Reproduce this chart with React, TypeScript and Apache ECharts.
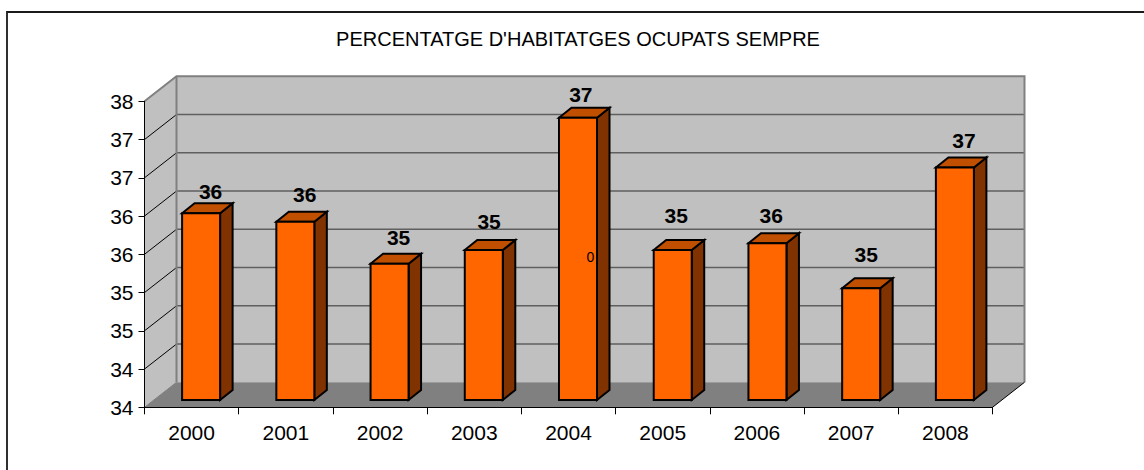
import React, { useEffect, useRef } from "react";
import * as echarts from "echarts";

const chartTitle = "PERCENTATGE D'HABITATGES OCUPATS SEMPRE";
const categories = ["2000", "2001", "2002", "2003", "2004", "2005", "2006", "2007", "2008"];
const seriesValues = [36.44, 36.33, 35.78, 35.96, 37.69, 35.96, 36.05, 35.46, 37.04];
const dataLabels = ["36", "36", "35", "35", "37", "35", "36", "35", "37"];
const yTickLabels = ["34", "34", "35", "35", "36", "36", "37", "37", "38"];
const yTickValues = [34, 34.5, 35, 35.5, 36, 36.5, 37, 37.5, 38];

// layout of the pseudo 3D scene
const FONT = '"Liberation Sans", Arial, sans-serif';
const WALL_DX = 32;
const WALL_DY = -25;
const BAR_SHIFT_X = 9.5;
const BAR_SHIFT_Y = -7.3;
const BAR_W = 38;
const SIDE_DX = 12.5;
const SIDE_DY = -10;
const labelNudgeX = [9.5, 9.4, 9, 5.3, 2.8, 4, 4.8, 5.5, 9];
const labelNudgeY = [-21.8, -26.7, -25.7, -28.3, -22.7, -34, -27.3, -33, -26];
const barNudgeX = [0, 0, 0, 0, 0, 0.5, 1, 0.5, 0];

function renderWalls(params: any, api: any) {
  const cs = params.coordSys;
  const L = cs.x;
  const R = cs.x + cs.width;
  const T = cs.y;
  const B = cs.y + cs.height;
  const bL = L + WALL_DX;
  const bR = R + WALL_DX;
  const bT = T + WALL_DY;
  const bB = B + WALL_DY;
  const children: any[] = [
    { type: "polygon", shape: { points: [[bL, bT], [bR, bT], [bR, bB], [bL, bB]] }, style: { fill: "#C0C0C0" } },
    { type: "polygon", shape: { points: [[L, T], [bL, bT], [bL, bB], [L, B]] }, style: { fill: "#C0C0C0" } },
    { type: "polygon", shape: { points: [[L, B], [bL, bB], [bR, bB], [R, B]] }, style: { fill: "#808080" } },
  ];
  yTickValues.slice(1, -1).forEach((t) => {
    const y = api.coord([0, t])[1];
    children.push({ type: "line", shape: { x1: bL, y1: y + WALL_DY, x2: bR, y2: y + WALL_DY }, style: { stroke: "#5F5F5F", lineWidth: 1.5 } });
    children.push({ type: "line", shape: { x1: L, y1: y, x2: bL, y2: y + WALL_DY }, style: { stroke: "#000", lineWidth: 1 } });
  });
  const edge = { stroke: "#808080", lineWidth: 2 };
  children.push({ type: "polyline", shape: { points: [[L, T], [bL, bT], [bR, bT], [bR, bB]] }, style: { ...edge, fill: "none" } });
  children.push({ type: "line", shape: { x1: bL, y1: bT, x2: bL, y2: bB }, style: edge });
  children.push({ type: "line", shape: { x1: L, y1: B, x2: bL, y2: bB }, style: { stroke: "#808080", lineWidth: 1 } });
  children.push({ type: "line", shape: { x1: R, y1: B, x2: bR, y2: bB }, style: { stroke: "#000", lineWidth: 1 } });
  return { type: "group", children, silent: true };
}

function renderBar(_params: any, api: any) {
  const i = api.value(0);
  const v = api.value(1);
  const top = api.coord([i, v]);
  const base = api.coord([i, yTickValues[0]]);
  const cx = top[0] + BAR_SHIFT_X + barNudgeX[i];
  const x0 = cx - BAR_W / 2;
  const x1 = cx + BAR_W / 2;
  const yT = top[1] + BAR_SHIFT_Y;
  const yB = base[1] + BAR_SHIFT_Y;
  const line = { stroke: "#000", lineWidth: 2, lineJoin: "miter" };
  return {
    type: "group",
    children: [
      { type: "polygon", shape: { points: [[x1, yT], [x1 + SIDE_DX, yT + SIDE_DY], [x1 + SIDE_DX, yB + SIDE_DY], [x1, yB]] }, style: { fill: "#803300", ...line } },
      { type: "polygon", shape: { points: [[x0, yT], [x0 + SIDE_DX, yT + SIDE_DY], [x1 + SIDE_DX, yT + SIDE_DY], [x1, yT]] }, style: { fill: "#C05000", ...line } },
      { type: "polygon", shape: { points: [[x0, yT], [x1, yT], [x1, yB], [x0, yB]] }, style: { fill: "#FF6600", ...line } },
      {
        type: "text",
        x: cx - barNudgeX[i] + labelNudgeX[i],
        y: yT + labelNudgeY[i] - 0.5,
        style: { text: dataLabels[i], font: `bold 21px ${FONT}`, fill: "#000", align: "center", verticalAlign: "middle" },
      },
    ],
  };
}

export default function App() {
  const ref = useRef<HTMLDivElement>(null);
  useEffect(() => {
    const chart = echarts.init(ref.current!, undefined, { renderer: "svg" });
    chart.setOption({
      animation: false,
      backgroundColor: "#FFFFFF",
      title: {
        text: chartTitle,
        left: 578,
        top: 24,
        textAlign: "center",
        textStyle: { fontFamily: FONT, fontSize: 20, fontWeight: "normal", color: "#000" },
        textVerticalAlign: "top",
        padding: [5, 8, 5, 0],
      },
      grid: { left: 144.5, top: 101.3, width: 848, height: 306, containLabel: false },
      xAxis: {
        type: "category",
        data: categories,
        z: 3,
        axisLine: { show: true, lineStyle: { color: "#000", width: 1 } },
        axisTick: { show: true, length: 7, lineStyle: { color: "#000", width: 1 } },
        axisLabel: { fontFamily: FONT, fontSize: 21, color: "#000", margin: 15 },
        splitLine: { show: false },
      },
      yAxis: {
        type: "value",
        min: 34,
        max: 38,
        interval: 0.5,
        z: 3,
        axisLine: { show: true, lineStyle: { color: "#000", width: 1 } },
        axisTick: { show: true, length: 6, lineStyle: { color: "#000", width: 1 } },
        axisLabel: {
          fontFamily: FONT,
          fontSize: 21,
          color: "#000",
          margin: 11,
          formatter: (v: number) => yTickLabels[yTickValues.indexOf(v)],
        },
        splitLine: { show: false },
      },
      graphic: [
        {
          type: "polyline",
          shape: { points: [[7, 472], [7, 12], [1146, 12]] },
          style: { stroke: "#1A1A1A", lineWidth: 1.8, fill: "none" },
          silent: true,
        },
        {
          type: "text",
          x: 590.5,
          y: 257,
          z: 100,
          style: { text: "0", fontFamily: FONT, fontSize: 14, fill: "#000", align: "center", verticalAlign: "middle" },
          silent: true,
        },
      ],
      series: [
        {
          type: "custom",
          z: 1,
          clip: false,
          silent: true,
          renderItem: renderWalls,
          data: [[0, yTickValues[0]]],
          encode: { x: 0, y: 1 },
        },
        {
          type: "custom",
          z: 2,
          clip: false,
          renderItem: renderBar,
          data: seriesValues.map((v, i) => [i, v]),
          encode: { x: 0, y: 1 },
        },
      ],
    });
    return () => chart.dispose();
  }, []);
  return <div ref={ref} style={{ position: "absolute", left: 0, top: 0, width: 1144, height: 470 }} />;
}
